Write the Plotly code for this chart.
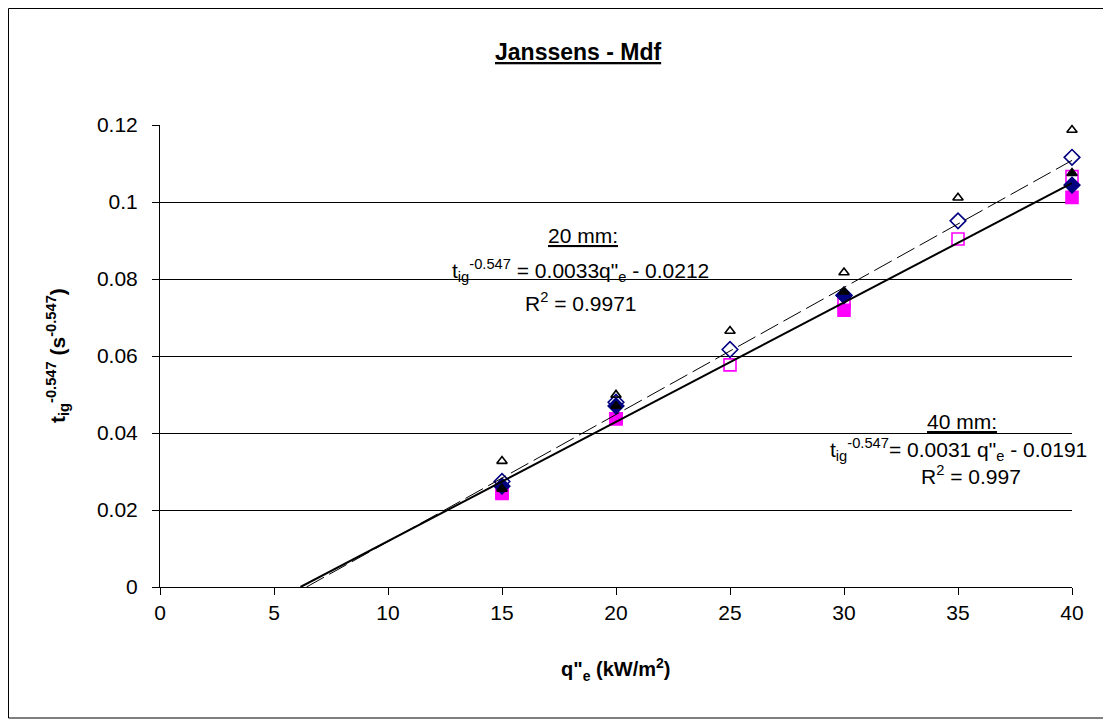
import plotly.graph_objects as go

# ---- data ----
q_all = [15, 20, 25, 30, 35, 40]          # kW/m2, 20 mm series
tri_open = [0.0327, 0.0499, 0.0665, 0.0817, 0.1011, 0.1187]
dia_open = [0.0274, 0.0480, 0.0617, 0.0758, 0.0951, 0.1116]
sq_open = [0.0243, 0.0437, 0.0577, 0.0740, 0.0904, 0.1066]

q_part = [15, 20, 30, 40]                  # kW/m2, 40 mm series
tri_fill = [0.0255, 0.0470, 0.0767, 0.1075]
dia_fill = [0.0262, 0.0470, 0.0757, 0.1044]
sq_fill = [0.0245, 0.0437, 0.0719, 0.1012]

fit20 = [0.0033, -0.0212]   # slope, intercept
fit40 = [0.0031, -0.0191]
x_max = 40

NAVY = "#000080"
MAG = "#FF00FF"
FONT = "Liberation Sans, Arial, sans-serif"

fig = go.Figure()

def add(x, y, sym, color, size):
    fig.add_trace(go.Scatter(x=x, y=y, mode="markers", cliponaxis=False,
                             marker=dict(symbol=sym, color=color, size=size,
                                         line=dict(color=color, width=1.6)),
                             showlegend=False))

add(q_all, sq_open, "square-open", MAG, 12)
add(q_all, dia_open, "diamond-open", NAVY, 12)
add(q_all, tri_open, "triangle-up-open", "black", 9)
add(q_part, sq_fill, "square", MAG, 12)
add(q_part, dia_fill, "diamond", NAVY, 12)
add(q_part, tri_fill, "triangle-up", "black", 9)

for (a, b), dash, w in [(fit20, "20px,6px", 1), (fit40, "solid", 2)]:
    x0 = -b / a
    xs = [x0, x_max]
    ys = [a * v + b for v in xs]
    fig.add_trace(go.Scatter(x=xs, y=ys, mode="lines", cliponaxis=False,
                             line=dict(color="black", width=w, dash=dash),
                             showlegend=False))

ann_font = dict(family=FONT, size=21, color="black")
anns = [
    dict(x=18.55, y=0.0912, text="<u>20 mm:</u>"),
    dict(x=18.46, y=0.0823, text="t<sub>ig</sub><sup>-0.547</sup> = 0.0033q\"<sub>e</sub> - 0.0212"),
    dict(x=18.46, y=0.0740, text="R<sup>2</sup> = 0.9971"),
    dict(x=35.18, y=0.0431, text="<u>40 mm:</u>"),
    dict(x=35.0, y=0.0357, text="t<sub>ig</sub><sup>-0.547</sup>= 0.0031 q\"<sub>e</sub> - 0.0191"),
    dict(x=35.57, y=0.0291, text="R<sup>2</sup> = 0.997"),
]
for a in anns:
    fig.add_annotation(xref="x", yref="y", showarrow=False, font=ann_font,
                       xanchor="center", yanchor="middle", **a)

fig.add_annotation(xref="paper", yref="paper", x=0.458, y=1.19, showarrow=False,
                   text="<b><u>Janssens - Mdf</u></b>",
                   font=dict(family=FONT, size=23, color="black"))
fig.add_annotation(xref="paper", yref="paper", x=0.5, y=-0.215, showarrow=False,
                   text="<b>q\"<sub>e</sub> (kW/m<sup>2</sup>)</b>",
                   font=dict(family=FONT, size=20, color="black"))
fig.add_annotation(xref="paper", yref="paper", x=-0.131, y=0.5, showarrow=False,
                   textangle=-90,
                   text="<b>t<sub>ig</sub><sup>-0.547</sup> (s<sup>-0.547</sup>)</b>",
                   font=dict(family=FONT, size=21, color="black"))

# outer chart border
fig.add_shape(type="rect", xref="paper", yref="paper",
              x0=(0.5 - 152) / 912, x1=(1096 - 152) / 912,
              y0=(579 - 710) / 462, y1=(579 - 0.5) / 462,
              line=dict(color="black", width=1), fillcolor="rgba(0,0,0,0)", layer="below")

fig.update_layout(
    width=1103, height=717,
    margin=dict(l=152, r=39, t=117, b=138),
    paper_bgcolor="white", plot_bgcolor="white",
    font=dict(family=FONT, size=20, color="black"),
    xaxis=dict(range=[0, 40], dtick=5, tick0=0, showgrid=False, zeroline=False,
               showline=True, linecolor="black", linewidth=1,
               ticks="outside", ticklen=7, tickcolor="black",
               tickfont=dict(size=21)),
    yaxis=dict(range=[0, 0.12], dtick=0.02, tick0=0, showgrid=True,
               gridcolor="black", gridwidth=1, zeroline=False,
               showline=True, linecolor="black", linewidth=1,
               ticks="outside", ticklen=7, tickcolor="black",
               ticklabelstandoff=10,
               tickfont=dict(size=21)),
)

fig.write_html("out.html")
